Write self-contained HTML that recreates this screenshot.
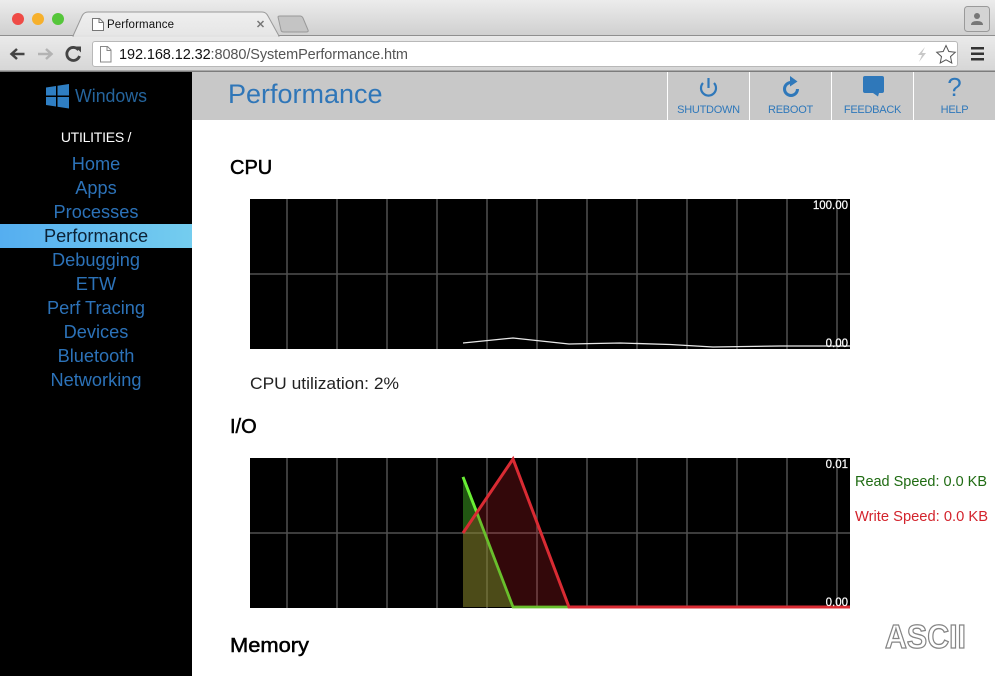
<!DOCTYPE html>
<html><head><meta charset="utf-8"><style>
html,body{margin:0;padding:0;background:#fff}
svg{display:block;font-family:"Liberation Sans",sans-serif}
</style></head><body>
<svg width="995" height="676" viewBox="0 0 995 676" xmlns="http://www.w3.org/2000/svg">
<defs>
<linearGradient id="top" x1="0" y1="0" x2="0" y2="1"><stop offset="0" stop-color="#ececec"/><stop offset="1" stop-color="#cfcfcf"/></linearGradient>
<linearGradient id="bar" x1="0" y1="0" x2="0" y2="1"><stop offset="0" stop-color="#eaeaea"/><stop offset="1" stop-color="#d6d6d6"/></linearGradient>
<linearGradient id="tab" x1="0" y1="0" x2="0" y2="1"><stop offset="0" stop-color="#efefef"/><stop offset="1" stop-color="#e6e6e6"/></linearGradient>
<linearGradient id="sel" x1="0" y1="0" x2="1" y2="0"><stop offset="0" stop-color="#55aef0"/><stop offset="1" stop-color="#74cdef"/></linearGradient>
</defs>
<rect width="995" height="676" fill="#fff"/>
<!-- title bar -->
<rect width="995" height="36" fill="url(#top)"/>
<rect y="35" width="995" height="1" fill="#8f8f8f"/>
<rect y="36" width="995" height="35" fill="url(#bar)"/>
<rect y="70.500" width="995" height="1.500" fill="#7c7c7c"/>
<circle cx="18" cy="19" r="6" fill="#ef4b46"/><circle cx="38" cy="19" r="6" fill="#f6b02c"/><circle cx="58" cy="19" r="6" fill="#55c63a"/>
<path d="M73 36 L82 16 Q84 12 88 12 L262 12 Q266 12 268 16 L279 36Z" fill="url(#tab)" stroke="#9a9a9a"/>
<rect x="74" y="35" width="204" height="2" fill="#e3e3e3"/>
<path d="M278 17 Q278 16 280 16 L300 16 Q302 16 303 18 L308 30 Q309 32 306 32 L284 32 Q281 32 281 30Z" fill="#c4c4c4" stroke="#999"/>
<path d="M92.500 18.500h7l4 4v8h-11z" fill="#fff" stroke="#777"/><path d="M99 18.500v4h4" fill="none" stroke="#777"/>
<text x="107" y="28" font-size="11.500" fill="#111" textLength="67" lengthAdjust="spacing">Performance</text>
<path d="M257.500 21l6 6M263.500 21l-6 6" stroke="#777" stroke-width="1.500"/>
<!-- profile -->
<rect x="964.500" y="6.500" width="25" height="25" rx="3" fill="#d4d4d4" stroke="#9a9a9a"/>
<circle cx="977" cy="16" r="3" fill="#777"/><path d="M971 25q0-4 6-4t6 4z" fill="#777"/>
<!-- nav icons -->
<path d="M24.500 54H12M17 49L11.500 54l5.500 5" fill="none" stroke="#444" stroke-width="2.500"/>
<path d="M38 54h13M46 49l5.500 5-5.500 5" fill="none" stroke="#b3b3b3" stroke-width="2.500"/>
<path d="M78.500 50A6.500 6.500 0 1 0 79.500 56" fill="none" stroke="#444" stroke-width="2.800"/><path d="M75 46.500h6v6z" fill="#444"/>
<rect x="92.500" y="41.500" width="865" height="25" rx="2.500" fill="#fff" stroke="#b8b8b8"/>
<path d="M100.500 46.500h7l3.500 3.500v12h-10.500z" fill="#fff" stroke="#888"/><path d="M107 46.500v4h4" fill="none" stroke="#888"/>
<text x="119" y="59" font-size="14.500" fill="#111" textLength="289" lengthAdjust="spacing">192.168.12.32<tspan fill="#555">:8080/SystemPerformance.htm</tspan></text>
<path d="M925 47l-7 8h4l-3 7 7-9h-4z" fill="#c8c8c8"/>
<path d="M946 45.500l2.800 6 6.500.7-4.800 4.400 1.300 6.400-5.800-3.200-5.800 3.200 1.300-6.400-4.800-4.400 6.500-.7z" fill="#fff" stroke="#555"/>
<rect x="971" y="47" width="13" height="2.500" fill="#333"/><rect x="971" y="52.500" width="13" height="2.500" fill="#333"/><rect x="971" y="58" width="13" height="2.500" fill="#333"/>
<!-- sidebar -->
<rect y="72" width="192" height="604" fill="#000"/>
<rect x="192" y="72" width="803" height="48" fill="#c8c8c8"/>
<path d="M46 87.500l10-1.500v9.500H46zM57.500 85.800l11.500-1.800v11.500H57.500zM46 97h10v9.500l-10-1.500zM57.500 97H69v11.500l-11.500-1.800z" fill="#2f7fc4"/>
<text x="75" y="102" font-size="18.500" fill="#25649c" textLength="72" lengthAdjust="spacingAndGlyphs">Windows</text>
<text x="96" y="142" font-size="14" fill="#fff" text-anchor="middle" letter-spacing="-.25">UTILITIES /</text>
<rect y="224" width="192" height="24" fill="url(#sel)"/>
<g font-size="18.200" fill="#2c72b8" text-anchor="middle">
<text x="96" y="170">Home</text>
<text x="96" y="194">Apps</text>
<text x="96" y="218">Processes</text>
<text x="96" y="242" fill="#0c2236">Performance</text>
<text x="96" y="266">Debugging</text>
<text x="96" y="290">ETW</text>
<text x="96" y="314">Perf Tracing</text>
<text x="96" y="338">Devices</text>
<text x="96" y="362">Bluetooth</text>
<text x="96" y="386">Networking</text>
</g>
<!-- header -->
<text x="228" y="103" font-size="27" fill="#2f76b8">Performance</text>
<g fill="#fff"><rect x="667" y="72" width="1" height="48"/><rect x="749" y="72" width="1" height="48"/><rect x="831" y="72" width="1" height="48"/><rect x="913" y="72" width="1" height="48"/></g>
<g font-size="11" fill="#2f78ba" text-anchor="middle" letter-spacing="-.25">
<text x="708.500" y="113">SHUTDOWN</text><text x="790.500" y="113">REBOOT</text><text x="872.500" y="113">FEEDBACK</text><text x="954.500" y="113">HELP</text>
</g>
<path d="M703 83a7.500 7.500 0 1 0 11 0" fill="none" stroke="#2f78ba" stroke-width="2.200"/><path d="M708.500 78v10" stroke="#2f78ba" stroke-width="2.200"/>
<path d="M791 82.500A6.500 6.500 0 1 0 797.500 89" fill="none" stroke="#2f78ba" stroke-width="3"/><path d="M790 76l7.500 5.500-7.500 5z" fill="#2f78ba"/>
<path d="M865 76h17q2 0 2 2v13q0 2-2 2h-3l-1 3.500-5-3.500h-8q-2 0-2-2V78q0-2 2-2z" fill="#2f78ba"/>
<text x="954.500" y="96" font-size="26" fill="#2f78ba" text-anchor="middle">?</text>
<!-- headings -->
<g font-size="20" fill="#000" stroke="#000" stroke-width=".5">
<text x="230" y="174">CPU</text><text x="230" y="433">I/O</text><text x="230" y="652" textLength="79" lengthAdjust="spacingAndGlyphs">Memory</text>
</g>
<text x="250" y="389" font-size="16.500" fill="#222" textLength="149" lengthAdjust="spacingAndGlyphs">CPU utilization: 2%</text>
<!-- CPU chart -->
<rect x="250" y="199" width="600" height="150" fill="#000"/>
<g stroke="#505050" stroke-width="1.500">
<path d="M287 199v150M337 199v150M387 199v150M437 199v150M487 199v150M537 199v150M587 199v150M637 199v150M687 199v150M737 199v150M787 199v150M837 199v150M250 274h600"/>
</g>
<polyline points="463,343 513,338 569,344 620,343 670,344.500 713,347 780,346 850,346" fill="none" stroke="#e8e8e8" stroke-width="1.300"/>
<text x="848" y="209" font-size="11.500" fill="#fff" stroke="#fff" stroke-width=".2" text-anchor="end">100.00</text>
<text x="848" y="347" font-size="11.500" fill="#fff" stroke="#fff" stroke-width=".2" text-anchor="end">0.00</text>
<!-- IO chart -->
<rect x="250" y="458" width="600" height="150" fill="#000"/>
<g stroke="#505050" stroke-width="1.500">
<path d="M287 458v150M337 458v150M387 458v150M437 458v150M487 458v150M537 458v150M587 458v150M637 458v150M687 458v150M737 458v150M787 458v150M837 458v150M250 533h600"/>
</g>
<polygon points="463,477 513,607 463,607" fill="#4fd02a" fill-opacity=".42"/>
<polygon points="463,533 513,459 569,607 463,607" fill="#e8262c" fill-opacity=".22"/>
<polyline points="463,477 477,513 513,607 569,607" fill="none" stroke="#69bf2c" stroke-width="2.800"/>
<polyline points="463,477 477,513" fill="none" stroke="#68ee35" stroke-width="2.800"/>
<polyline points="463,533 513,459 569,607 850,607" fill="none" stroke="#d92b33" stroke-width="3"/>
<text x="848" y="468" font-size="11.500" fill="#fff" stroke="#fff" stroke-width=".2" text-anchor="end">0.01</text>
<text x="848" y="606" font-size="11.500" fill="#fff" stroke="#fff" stroke-width=".2" text-anchor="end">0.00</text>
<text x="855" y="486" font-size="14.500" fill="#1f6b12" textLength="132" lengthAdjust="spacingAndGlyphs">Read Speed: 0.0 KB</text>
<text x="855" y="521" font-size="14.500" fill="#d3232c" textLength="133" lengthAdjust="spacingAndGlyphs">Write Speed: 0.0 KB</text>
<!-- logo -->
<text x="885" y="648" font-size="33" font-weight="700" fill="#fff" stroke="#858585" stroke-width="1.300" textLength="81" lengthAdjust="spacingAndGlyphs">ASCII</text>
</svg>
</body></html>
